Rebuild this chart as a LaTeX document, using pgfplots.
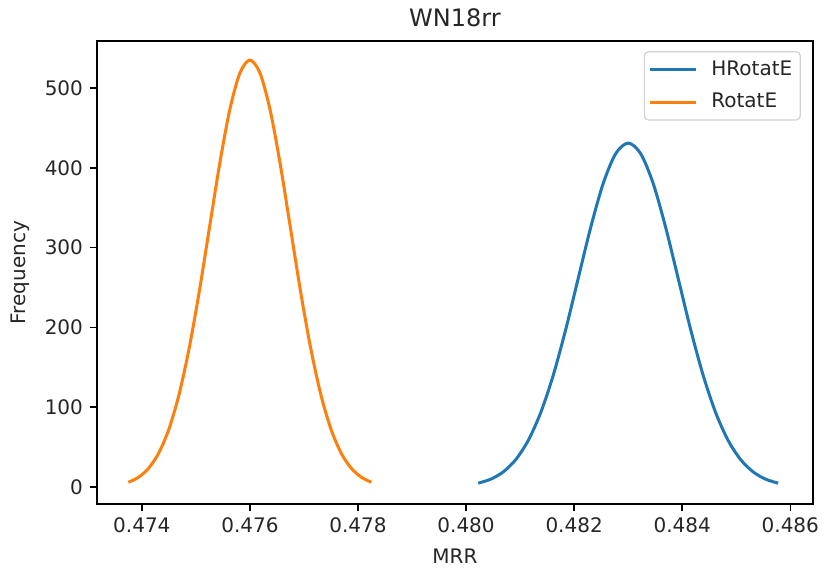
\documentclass[border=0pt]{standalone}
\usepackage{fontspec}
\setmainfont{DejaVu Sans}
\usepackage{pgfplots}
\pgfplotsset{compat=1.18}
\definecolor{mplblue}{HTML}{1F77B4}
\definecolor{mplorange}{HTML}{FF7F0E}
\definecolor{mpltext}{HTML}{262626}

\begin{document}
\begin{tikzpicture}
\useasboundingbox (-48.5pt,-32pt) rectangle (364pt,252pt);
\begin{axis}[
    at={(0,0)}, anchor=south west,
    scale only axis, width=358pt, height=231.5pt,
    xmin=0.47317, xmax=0.48642,
    ymin=-21.3, ymax=558.9,
    xtick={0.474,0.476,0.478,0.480,0.482,0.484,0.486},
    ytick={0,100,200,300,400,500},
    scaled x ticks=false,
    xticklabel style={/pgf/number format/.cd, fixed, fixed zerofill, precision=3},
    /pgf/number format/assume math mode=true,
    tick align=outside, tick pos=left,
    major tick length=3.5pt,
    tick style={black, line width=0.8pt},
    axis line style={black, line width=0.8pt},
    ticklabel style={font=\fontsize{10}{12}\selectfont, text=mpltext},
    title={WN18rr},
    every axis title shift=0pt,
    title style={at={(axis description cs:0.5,1.0508)}, anchor=center, font=\fontsize{12}{14}\selectfont, text=mpltext},
    xlabel={MRR},
    ylabel={Frequency},
    every axis x label/.style={at={(axis description cs:0.5,-0.112)}, anchor=center, font=\fontsize{10}{12}\selectfont, text=mpltext},
    every axis y label/.style={at={(axis description cs:-0.1075,0.5)}, rotate=90, anchor=center, font=\fontsize{10}{12}\selectfont, text=mpltext},
    legend style={at={(rel axis cs:0.983,0.978)}, anchor=north east,
        draw=black!18, rounded corners=2pt, line width=0.6pt,
        font=\fontsize{10}{12}\selectfont, text=mpltext,
        inner xsep=2pt, inner ysep=2.5pt, row sep=3.5pt},
    legend cell align=left,
    legend image code/.code={\draw[#1] (-1pt,0pt) -- (22pt,0pt);},
    legend style={/tikz/every odd column/.append style={column sep=5pt}},
]

% HRotatE
\addplot[mplblue, line width=1.5pt, smooth] coordinates {
(0.480225,4.8)(0.48045625,9.8)(0.4806875,18.9)(0.48091875,34.3)(0.48115,58.3)
(0.48138125,93.2)(0.4816125,139.9)(0.48184375,197.3)(0.482075,261.4)(0.48230625,325.3)
(0.4825375,380.4)(0.48276875,417.7)(0.483,431.0)(0.48323125,417.7)(0.4834625,380.4)
(0.48369375,325.3)(0.483925,261.4)(0.48415625,197.3)(0.4843875,139.9)(0.48461875,93.2)
(0.48485,58.3)(0.48508125,34.3)(0.4853125,18.9)(0.48554375,9.8)(0.485775,4.8)
};
\addlegendentry{HRotatE}

% RotatE
\addplot[mplorange, line width=1.5pt, smooth] coordinates {
(0.47375,5.9)(0.4739375,12.2)(0.474125,23.5)(0.4743125,42.6)(0.4745,72.4)
(0.4746875,115.7)(0.474875,173.7)(0.4750625,244.9)(0.47525,324.5)(0.4754375,403.8)
(0.475625,472.1)(0.4758125,518.5)(0.476,535.0)(0.4761875,518.5)(0.476375,472.1)
(0.4765625,403.8)(0.47675,324.5)(0.4769375,244.9)(0.477125,173.7)(0.4773125,115.7)
(0.4775,72.4)(0.4776875,42.6)(0.477875,23.5)(0.4780625,12.2)(0.47825,5.9)
};
\addlegendentry{RotatE}

\end{axis}
\end{tikzpicture}
\end{document}
